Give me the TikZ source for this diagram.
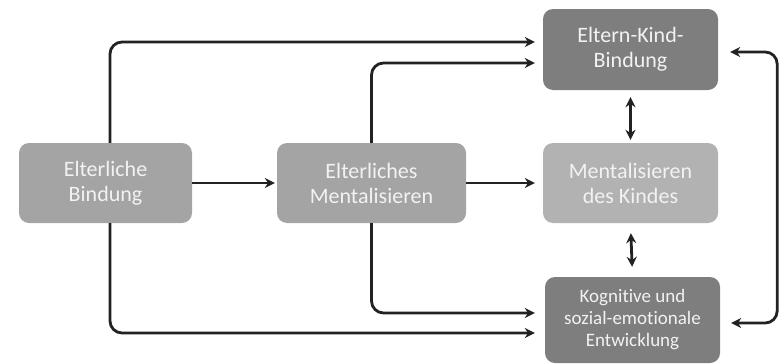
\documentclass[tikz,border=0pt]{standalone}
\usepackage{fontspec}
\setmainfont{Carlito}[Ligatures=NoCommon]
\usetikzlibrary{arrows.meta, calc}
\definecolor{g1}{HTML}{A4A4A4}
\definecolor{g2}{HTML}{B2B2B2}
\definecolor{g3}{HTML}{7E7E7E}
\definecolor{t}{HTML}{F2F2F2}
\definecolor{b}{HTML}{222222}

\begin{document}
\begin{tikzpicture}[x=1pt, y=-1pt,
		box/.style={rounded corners=10pt, inner sep=0pt, align=center, text=t,
				font=\fontsize{22}{25}\selectfont, minimum height=80pt},
		arr/.style={line width=2.8pt, draw=b, -{Stealth[length=10pt,width=10pt]}},
		both/.style={line width=2.8pt, draw=b, {Stealth[length=10pt,width=10pt]}-{Stealth[length=10pt,width=10pt]}},
		link/.style={arr, rounded corners=12pt}]
			\useasboundingbox (0,0) rectangle (782,364);

			% Draw boxes
			\node[box, fill=g1, minimum width=173pt] (eb) at (105.5,183) {Elterliche\\Bindung};
			\node[box, fill=g1, minimum width=189pt] (em) at (371.5,183) {Elterliches\\Mentalisieren};
			\node[box, fill=g2, minimum width=175pt] (mk) at (630.5,183) {Mentalisieren\\des Kindes};
			\node[box, fill=g3, minimum width=175pt, minimum height=81pt] (ekb) at (630.5,49.5) {Eltern-Kind-\\Bindung};
			\node[box, fill=g3, minimum width=175pt, minimum height=86pt,
				font=\fontsize{19}{22}\selectfont] (kog) at (632.5,320) {Kognitive und\\sozial-emotionale\\Entwicklung};

			% Straight arrows
			\draw[arr, shorten >=2pt] (eb.east) -- (em.west);
			\draw[arr, shorten >=8pt] (em.east) -- (mk.west);

			% Add paths to the top box
			\draw[link, shorten >=8pt] ([xshift=4.5pt]eb.north) |- ([yshift=7.5pt]ekb.west);
			\draw[link, shorten >=8pt] (em.north) |- ([yshift=-13.5pt]ekb.west);

			% Add paths to the bottom box
			\draw[link, shorten >=10pt] (em.south) |- ([yshift=7pt]kog.west);
			\draw[link, shorten >=10pt] ([xshift=4.5pt]eb.south) |- ([yshift=-13pt]kog.west);

			% Two-way arrows
			\draw[both, shorten <=7pt, shorten >=3pt] (ekb.south) -- (mk.north);
			\draw[both, shorten <=10pt, shorten >=10pt] (mk.south) -- (kog.north);

			% Outer loop on the right
			\draw[both, rounded corners=12pt, shorten <=12pt, shorten >=11pt]
				([yshift=-2.5pt]ekb.east) -- ++(59,0) |- ([yshift=-3pt]kog.east);
		\end{tikzpicture}
\end{document}
